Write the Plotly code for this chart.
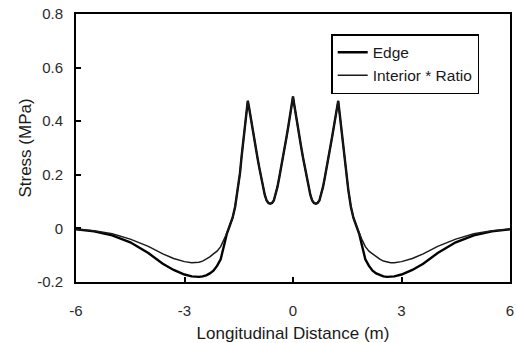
import plotly.graph_objects as go

# Half profile (x >= 0); the chart is symmetric about x = 0
x_half = [0.0, 0.03, 0.08, 0.13, 0.18, 0.23, 0.28, 0.33, 0.38, 0.43, 0.48, 0.53, 0.58,
          0.63, 0.68, 0.73, 0.78, 0.83, 0.88, 0.93, 0.98, 1.03, 1.08, 1.13, 1.18, 1.22,
          1.25, 1.28, 1.32, 1.375, 1.42, 1.466, 1.53, 1.6, 1.67, 1.75, 1.83, 1.9, 2.0,
          2.1, 2.2, 2.3, 2.4, 2.5, 2.6, 2.7, 2.8, 3.0, 3.3, 3.6, 4.0, 4.5, 5.0, 5.5, 6.0]
edge_half = [0.492, 0.465, 0.42, 0.38, 0.34, 0.30, 0.262, 0.225, 0.19, 0.155, 0.125, 0.104,
             0.095, 0.092, 0.095, 0.104, 0.125, 0.155, 0.19, 0.225, 0.262, 0.30, 0.34, 0.38,
             0.42, 0.455, 0.476, 0.44, 0.39, 0.33, 0.27, 0.206, 0.143, 0.081, 0.04, 0.01,
             -0.02, -0.06, -0.115, -0.14, -0.158, -0.168, -0.175, -0.179, -0.181, -0.181,
             -0.179, -0.172, -0.155, -0.132, -0.092, -0.052, -0.026, -0.011, -0.003]
interior_half = [0.492, 0.465, 0.42, 0.38, 0.34, 0.30, 0.262, 0.225, 0.19, 0.155, 0.125, 0.104,
                 0.095, 0.092, 0.095, 0.104, 0.125, 0.155, 0.19, 0.225, 0.262, 0.30, 0.34, 0.38,
                 0.42, 0.455, 0.476, 0.44, 0.39, 0.33, 0.27, 0.206, 0.143, 0.081, 0.04, 0.01,
                 -0.018, -0.04, -0.068, -0.085, -0.095, -0.106, -0.115, -0.122, -0.126,
                 -0.128, -0.128, -0.124, -0.112, -0.095, -0.067, -0.04, -0.02, -0.009, -0.003]

x_vals = [-v for v in x_half[::-1]] + x_half[1:]
edge = edge_half[::-1] + edge_half[1:]
interior = interior_half[::-1] + interior_half[1:]

x_ticks = [-6, -3, 0, 3, 6]
x_ticklabels = ["-6", "-3", "0", "3", "6"]
y_ticks = [-0.2, 0, 0.2, 0.4, 0.6, 0.8]
y_ticklabels = ["-0.2", "0", "0.2", "0.4", "0.6", "0.8"]

font_family = "Liberation Sans, Arial, sans-serif"

fig = go.Figure()
fig.add_trace(go.Scatter(x=x_vals, y=edge, mode="lines", name="Edge",
                         line=dict(color="black", width=2.4)))
fig.add_trace(go.Scatter(x=x_vals, y=interior, mode="lines", name="Interior * Ratio",
                         line=dict(color="#1a1a1a", width=1.5)))

axis_common = dict(showline=True, linecolor="black", linewidth=2, mirror=True,
                   ticks="inside", ticklen=5, tickwidth=2, tickcolor="black",
                   showgrid=False, zeroline=False, automargin=False,
                   tickfont=dict(family=font_family, size=15, color="#2a2a2a"))

fig.update_xaxes(range=[-6, 6], tickvals=x_ticks, ticktext=x_ticklabels,
                 ticklabelstandoff=14,
                 title=dict(text="Longitudinal Distance (m)", standoff=9,
                            font=dict(family=font_family, size=17, color="#1a1a1a")),
                 **axis_common)
fig.update_yaxes(range=[-0.2, 0.8], tickvals=y_ticks, ticktext=y_ticklabels,
                 ticklabelstandoff=8,
                 title=dict(text="Stress (MPa)", standoff=1,
                            font=dict(family=font_family, size=17, color="#1a1a1a")),
                 **axis_common)

fig.update_layout(
    width=516, height=343,
    margin=dict(l=76, r=6, t=14, b=61, autoexpand=False),
    paper_bgcolor="white", plot_bgcolor="white",
    showlegend=True,
    legend=dict(x=0.588, y=0.925, xanchor="left", yanchor="top",
                bgcolor="white", bordercolor="black", borderwidth=1.5,
                font=dict(family=font_family, size=15.5, color="#1a1a1a"),
                itemwidth=30, tracegroupgap=0),
)

fig.write_html("out.html")
